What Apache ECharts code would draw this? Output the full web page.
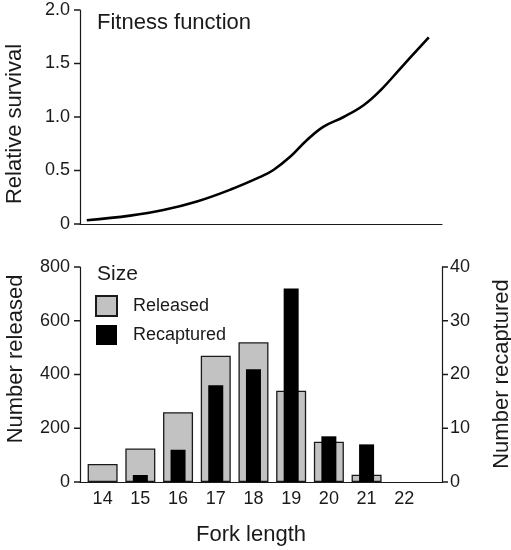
<!DOCTYPE html>
<html>
<head>
<meta charset="utf-8">
<script src="https://cdn.jsdelivr.net/npm/echarts@6/dist/echarts.min.js"></script>
<style>
  html, body { margin: 0; padding: 0; background: #ffffff; }
  #chart { width: 511px; height: 550px; }
</style>
</head>
<body>
<div id="chart"></div>
<script>
// fork length classes (x axis tick labels)
var forkLength = [14, 15, 16, 17, 18, 19, 20, 21, 22];
// number of fish released per size class (left axis)
var released = [67, 125, 260, 470, 520, 340, 150, 27, 0];
// number recaptured per size class (right axis)
var recaptured = [0, 1.3, 6, 18, 21, 36, 8.5, 7, 0];

// fitness function curve
var fitLength = [13.58, 14.73, 15.61, 16.5, 17.38, 18.18, 18.53, 18.98, 19.42, 19.86, 20.39, 20.92, 21.37, 21.9, 22.65];
var fitValue = [0.035, 0.078, 0.13, 0.21, 0.32, 0.44, 0.505, 0.63, 0.785, 0.91, 1.0, 1.11, 1.25, 1.455, 1.745];

// y tick values of the three axes
var survivalTicks = [0, 0.5, 1.0, 1.5, 2.0];
var releasedTicks = [0, 200, 400, 600, 800];
var recapturedTicks = [0, 10, 20, 30, 40];

var FONT = '"Liberation Sans", Arial, Helvetica, sans-serif';
var INK = '#1a1a1a';

var chart = echarts.init(document.getElementById('chart'));

var axisLine = { show: true, lineStyle: { color: INK, width: 1.2 } };
var tickLabel = { color: INK, fontSize: 18, fontFamily: FONT };

// skip empty classes so no flat bar is drawn
function pairs(vals) {
    return forkLength.map(function (x, i) { return [x, vals[i] > 0 ? vals[i] : '-']; });
}

chart.setOption({
    backgroundColor: '#ffffff',
    animation: false,
    grid: [
        { left: 80, top: 10, width: 362, height: 214 },
        { left: 80, top: 267, width: 362, height: 215 }
    ],
    xAxis: [
        {
            gridIndex: 0, type: 'value', min: 13.4, max: 23,
            axisLine: axisLine, axisTick: { show: false },
            axisLabel: { show: false }, splitLine: { show: false }
        },
        {
            gridIndex: 1, type: 'value', min: 13.4, max: 23,
            axisLine: axisLine, axisTick: { show: false }, splitLine: { show: false },
            axisLabel: Object.assign({ margin: 8, customValues: forkLength }, tickLabel)
        },
        {
            // twin axis so the narrow black bars sit centred on the wide ones
            gridIndex: 1, type: 'value', min: 13.4, max: 23, show: false
        }
    ],
    yAxis: [
        {
            gridIndex: 0, type: 'value', min: 0, max: 2, interval: 0.5,
            axisLine: axisLine, axisTick: { show: false },
            splitLine: { show: false },
            axisLabel: Object.assign({
                margin: 10,
                formatter: function (v) { return v === 0 ? '0' : v.toFixed(1); }
            }, tickLabel)
        },
        {
            gridIndex: 1, type: 'value', min: 0, max: 800, interval: 200,
            axisLine: axisLine, axisTick: { show: false },
            splitLine: { show: false },
            axisLabel: Object.assign({ margin: 10 }, tickLabel)
        },
        {
            gridIndex: 1, type: 'value', position: 'right', min: 0, max: 40, interval: 10,
            axisLine: axisLine, axisTick: { show: false },
            splitLine: { show: false },
            axisLabel: Object.assign({ margin: 8 }, tickLabel)
        }
    ],
    legend: {
        orient: 'vertical',
        left: 95, top: 295,
        padding: 0,
        itemWidth: 21, itemHeight: 20, itemGap: 8,
        icon: 'rect',
        textStyle: { color: INK, fontSize: 18, fontFamily: FONT, padding: [0, 0, 0, 11] },
        data: ['Released', 'Recaptured']
    },
    series: [
        {
            name: 'Fitness',
            type: 'line',
            xAxisIndex: 0, yAxisIndex: 0,
            smooth: 0.4,
            symbol: 'none',
            lineStyle: { color: '#000', width: 2.6 },
            data: fitLength.map(function (x, i) { return [x, fitValue[i]]; })
        },
        {
            name: 'Released',
            type: 'bar',
            xAxisIndex: 1, yAxisIndex: 1,
            barWidth: 30,
            itemStyle: { color: '#c2c2c2', borderColor: '#1a1a1a', borderWidth: 1.3 },
            data: pairs(released)
        },
        {
            name: 'Recaptured',
            type: 'bar',
            xAxisIndex: 2, yAxisIndex: 2,
            barWidth: 15,
            itemStyle: { color: '#000' },
            data: pairs(recaptured)
        }
    ],
    graphic: [
        {
            type: 'text', x: 97, y: 23,
            style: { text: 'Fitness function', fill: INK, font: '22px ' + FONT, textVerticalAlign: 'middle' }
        },
        {
            type: 'text', x: 97, y: 274,
            style: { text: 'Size', fill: INK, font: '21px ' + FONT, textVerticalAlign: 'middle' }
        },
        {
            type: 'text', x: 15, y: 124, rotation: Math.PI / 2,
            style: { text: 'Relative survival', fill: INK, font: '22px ' + FONT, textAlign: 'center', textVerticalAlign: 'middle' }
        },
        {
            type: 'text', x: 16, y: 359, rotation: Math.PI / 2,
            style: { text: 'Number released', fill: INK, font: '22px ' + FONT, textAlign: 'center', textVerticalAlign: 'middle' }
        },
        {
            type: 'text', x: 502, y: 374, rotation: Math.PI / 2,
            style: { text: 'Number recaptured', fill: INK, font: '22px ' + FONT, textAlign: 'center', textVerticalAlign: 'middle' }
        },
        {
            type: 'text', x: 251, y: 535,
            style: { text: 'Fork length', fill: INK, font: '22px ' + FONT, textAlign: 'center', textVerticalAlign: 'middle' }
        }
    ]
});

// outward y ticks, placed through the chart's own axis scales
var ticks = [];
function addTicks(values, finder, xVal, dir) {
    values.forEach(function (v) {
        var p = chart.convertToPixel(finder, [xVal, v]);
        ticks.push({
            type: 'line', z: 10,
            shape: { x1: p[0], y1: p[1], x2: p[0] + dir * 6, y2: p[1] },
            style: { stroke: INK, lineWidth: 1.5 }
        });
    });
}
addTicks(survivalTicks, { xAxisIndex: 0, yAxisIndex: 0 }, 13.4, -1);
addTicks(releasedTicks, { xAxisIndex: 1, yAxisIndex: 1 }, 13.4, -1);
addTicks(recapturedTicks, { xAxisIndex: 1, yAxisIndex: 2 }, 23, 1);
chart.setOption({ graphic: ticks.map(function (t, i) { return Object.assign({ id: 'tick' + i }, t); }) });
</script>
</body>
</html>
